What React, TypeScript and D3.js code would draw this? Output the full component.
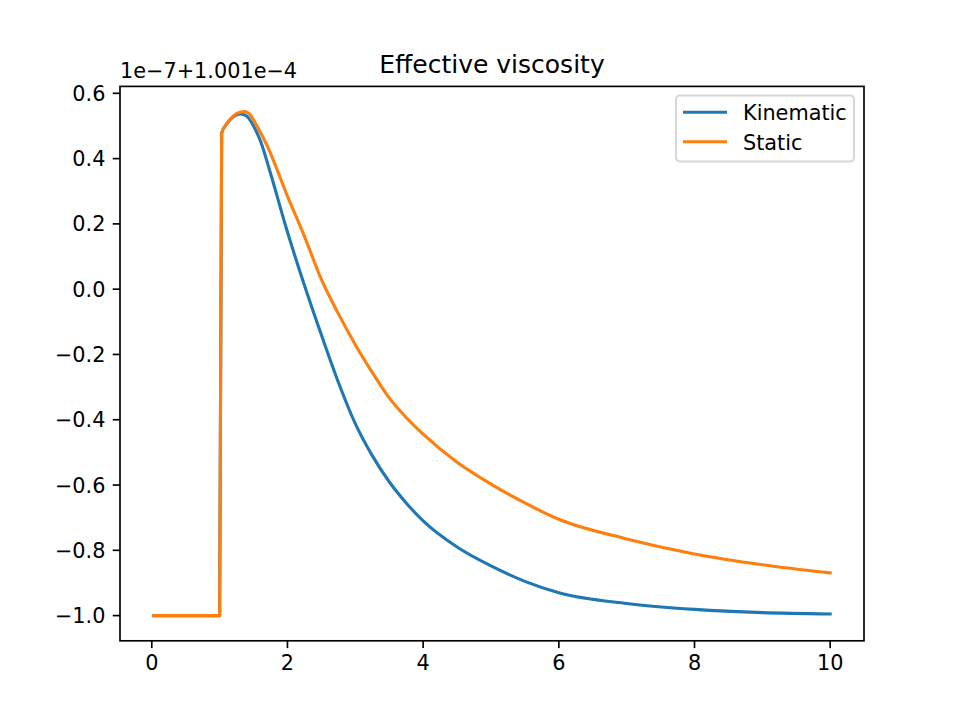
import React from "react";
import * as d3 from "d3";

// values are offsets: 1.001e-4 + v * 1e-7
const kinematicX = [0.03, 0.5, 1.0, 1.03, 1.1, 1.2, 1.3, 1.4, 1.5, 1.6, 1.75, 2.0, 2.25, 2.5, 2.75, 3.0, 3.25, 3.5, 3.75, 4.0, 4.5, 5.0, 5.5, 6.0, 7.0, 8.0, 9.0, 10.0];
const kinematicY = [-1, -1, -1, 0.478, 0.505, 0.528, 0.537, 0.53, 0.5, 0.455, 0.355, 0.175, 0.012, -0.14, -0.285, -0.412, -0.51, -0.59, -0.655, -0.71, -0.79, -0.848, -0.895, -0.93, -0.963, -0.981, -0.991, -0.995];

const staticX = [0.03, 0.5, 1.0, 1.03, 1.1, 1.2, 1.3, 1.37, 1.45, 1.55, 1.7, 2.0, 2.25, 2.5, 2.75, 3.0, 3.25, 3.5, 3.75, 4.0, 4.5, 5.0, 5.5, 6.0, 7.0, 8.0, 9.0, 10.0];
const staticY = [-1, -1, -1, 0.478, 0.505, 0.53, 0.542, 0.544, 0.534, 0.5, 0.44, 0.285, 0.162, 0.03, -0.075, -0.17, -0.255, -0.333, -0.393, -0.444, -0.53, -0.597, -0.655, -0.705, -0.765, -0.811, -0.844, -0.869];

const xTicks = [0, 2, 4, 6, 8, 10];
const yTicks = [-1.0, -0.8, -0.6, -0.4, -0.2, 0.0, 0.2, 0.4, 0.6];
const seriesNames = ["Kinematic", "Static"];
const colors = ["#1f77b4", "#ff7f0e"];

const W = 960;
const H = 719;
const left = 120;
const right = 864;
const top = 86.4;
const bottom = 640.8;
const font = "DejaVu Sans, sans-serif";
const fs = 20.8;
const tickLen = 7.3;
const lw = 1.67;

function pad(ext: [number, number]): [number, number] {
  const m = (ext[1] - ext[0]) * 0.05;
  return [ext[0] - m, ext[1] + m];
}

function fmt(v: number) {
  return v.toFixed(1).replace("-", "\u2212");
}

export default function App() {
  const series = [
    kinematicX.map((x, i) => [x, kinematicY[i]] as [number, number]),
    staticX.map((x, i) => [x, staticY[i]] as [number, number]),
  ];
  const allX = [...kinematicX, ...staticX];
  const allY = [...kinematicY, ...staticY];

  const xScale = d3.scaleLinear().domain(pad(d3.extent(allX) as [number, number])).range([left, right]);
  const yScale = d3.scaleLinear().domain(pad(d3.extent(allY) as [number, number])).range([bottom, top]);

  const line = d3
    .line<[number, number]>()
    .x((d) => xScale(d[0]))
    .y((d) => yScale(d[1]))
    .curve(d3.curveMonotoneX);

  return (
    <svg width={W} height={H} style={{ position: "absolute", left: 0, top: 0, background: "#fff" }} fontFamily={font}>
      <rect x={0} y={0} width={W} height={H} fill="#fff" />

      <defs>
        <clipPath id="plot">
          <rect x={left} y={top} width={right - left} height={bottom - top} />
        </clipPath>
      </defs>

      <g clipPath="url(#plot)">
        {series.map((s, i) => (
          <path key={i} d={line(s) || ""} fill="none" stroke={colors[i]} strokeWidth={3.1} strokeLinejoin="round" strokeLinecap="square" />
        ))}
      </g>

      {/* spines */}
      <rect x={left} y={top} width={right - left} height={bottom - top} fill="none" stroke="#000" strokeWidth={lw} />

      {/* x axis */}
      {xTicks.map((t) => (
        <g key={t} transform={`translate(${xScale(t)},0)`}>
          <line y1={bottom} y2={bottom + tickLen} stroke="#000" strokeWidth={lw} />
          <text y={670} textAnchor="middle" fontSize={fs} fill="#000">
            {t}
          </text>
        </g>
      ))}

      {/* y axis */}
      {yTicks.map((t) => (
        <g key={t} transform={`translate(0,${yScale(t)})`}>
          <line x1={left} x2={left - tickLen} stroke="#000" strokeWidth={lw} />
          <text x={left - 2 * tickLen} y={7.6} textAnchor="end" fontSize={fs} fill="#000">
            {fmt(t)}
          </text>
        </g>
      ))}

      <text x={left} y={78} fontSize={fs} fill="#000">
        1e−7+1.001e−4
      </text>

      <text x={(left + right) / 2} y={73} textAnchor="middle" fontSize={25} fill="#000">
        Effective viscosity
      </text>

      {/* legend */}
      <g>
        <rect x={676} y={95.5} width={178} height={66} rx={4} fill="#fff" fillOpacity={0.8} stroke="#d6d6d6" strokeWidth={2.08} />
        {seriesNames.map((n, i) => (
          <g key={n}>
            <line x1={683} x2={727} y1={112.3 + i * 29.4} y2={112.3 + i * 29.4} stroke={colors[i]} strokeWidth={3.1} />
            <text x={743} y={119.5 + i * 30} fontSize={fs} fill="#000">
              {n}
            </text>
          </g>
        ))}
      </g>
    </svg>
  );
}
